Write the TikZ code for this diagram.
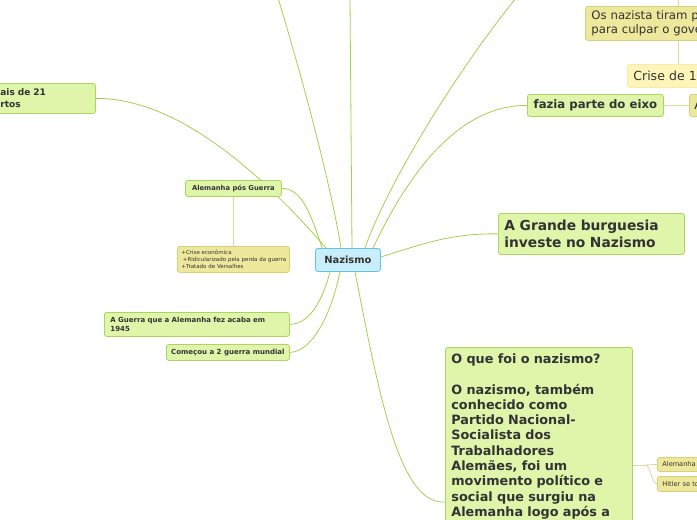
\documentclass[tikz,border=0pt]{standalone}
\usepackage{fontspec}
\setmainfont{DejaVu Sans}
\usetikzlibrary{calc}
\pgfdeclarelayer{background}
\pgfsetlayers{background,main}
\definecolor{gline}{RGB}{165,207,80}
\definecolor{gfill}{RGB}{223,245,170}
\definecolor{gdraw}{RGB}{172,213,95}
\definecolor{bfill}{RGB}{200,238,252}
\definecolor{bdraw}{RGB}{100,195,235}
\definecolor{yfill}{RGB}{237,232,155}
\definecolor{ydraw}{RGB}{215,208,120}
\definecolor{lyfill}{RGB}{255,245,185}
\definecolor{lydraw}{RGB}{246,236,170}
\definecolor{tline}{RGB}{222,215,155}
\definecolor{txt}{RGB}{51,51,51}
\tikzset{
  box/.style={rounded corners=2.5pt, line width=0.8pt, anchor=north west, inner sep=0pt, text=txt},
  gbox/.style={box, draw=gdraw, fill=gfill},
  bbox/.style={box, draw=bdraw, fill=bfill},
  ybox/.style={box, draw=ydraw, fill=yfill},
  lybox/.style={box, draw=lydraw, fill=lyfill},
  gcon/.style={draw=gline, line width=0.8pt},
  tcon/.style={draw=tline, line width=0.8pt},
}
\begin{document}
\begin{tikzpicture}[x=1pt,y=-1pt]
\useasboundingbox (0,0) rectangle (697,520);

% nodes
\node[bbox, minimum width=65pt, minimum height=23pt, font=\fontsize{9.9}{11}\selectfont\bfseries] (nz) at (315,248) {Nazismo};

\node[gbox, minimum width=105pt, minimum height=30pt, text width=95pt, align=left, inner xsep=5pt, font=\fontsize{9}{12}\selectfont\bfseries] (ais) at (-10,83) {\hspace*{5pt}ais de 21\\\hspace*{5pt}rtos};

\node[gbox, minimum width=96pt, minimum height=16pt, font=\fontsize{6.8}{8}\selectfont\bfseries] (apg) at (185,180) {Alemanha pós Guerra};

\node[ybox, minimum width=112pt, minimum height=26pt, text width=106pt, align=left, inner xsep=3pt, font=\fontsize{5.5}{6.6}\selectfont] (crs) at (177,246) {\hspace*{1pt}+Crise econômica\\\hspace*{2.5pt}+Ridicularizado pela perda da guerra\\\hspace*{1pt}+Tratado de Versalhes};

\node[gbox, minimum width=185pt, minimum height=24pt, text width=173pt, align=left, inner xsep=6pt, font=\fontsize{7}{9}\selectfont\bfseries] (agq) at (104,312) {A Guerra que a Alemanha fez acaba em\\1945};

\node[gbox, minimum width=123pt, minimum height=16pt, font=\fontsize{7}{8}\selectfont\bfseries] (com) at (166,344) {Começou a 2 guerra mundial};

\node[gbox, minimum width=186pt, minimum height=41pt, text width=174pt, align=left, inner xsep=6pt, font=\fontsize{13.8}{17}\selectfont\bfseries] (gbg) at (498,213) {A Grande burguesia\\investe no Nazismo};

\node[gbox, minimum width=136pt, minimum height=22pt, font=\fontsize{11.7}{13}\selectfont\bfseries] (fpe) at (527,94) {fazia parte do eixo};

\node[ybox, minimum width=40pt, minimum height=22pt, text width=34pt, align=left, inner xsep=5pt, font=\fontsize{12.5}{14}\selectfont] (aa) at (689,94) {A};

\node[lybox, minimum width=100pt, minimum height=23pt, text width=94pt, align=left, inner xsep=6pt, font=\fontsize{12.5}{14}\selectfont] (cri) at (627,64) {Crise de 1};

\node[ybox, minimum width=130pt, minimum height=34pt, text width=124pt, align=left, inner xsep=6pt, font=\fontsize{11.7}{14.5}\selectfont] (osn) at (585,6) {Os nazista tiram p\\para culpar o gove};

\node[gbox, text width=175pt, align=left, inner xsep=6pt, inner ysep=6.3pt, font=\fontsize{12.8}{15.3}\selectfont\bfseries] (big) at (445,347) {O que foi o nazismo?\\[15.3pt]
O nazismo, também\\
conhecido como\\
Partido Nacional-\\
Socialista dos\\
Trabalhadores\\
Alemães, foi um\\
movimento político e\\
social que surgiu na\\
Alemanha logo após a};

\node[ybox, minimum width=60pt, minimum height=14pt, text width=54pt, align=left, inner xsep=5pt, font=\fontsize{6.6}{7}\selectfont] (ale) at (657,457) {Alemanha};
\node[ybox, minimum width=60pt, minimum height=15pt, text width=54pt, align=left, inner xsep=5pt, font=\fontsize{6.6}{7}\selectfont] (hit) at (657,476) {Hitler se to};

\coordinate (t1) at (278,-2);
\coordinate (t2) at (350,-2);
\coordinate (t3) at (516,-2);
\coordinate (ty) at (678,-2);
\coordinate (br) at (645,465);

% connectors
\begin{pgfonlayer}{background}
\draw[gcon] ($(nz.north west)+(11,0)$) .. controls (250,160) and (170,98) .. (ais.east);
\draw[gcon] ($(nz.north west)+(7,0)$) .. controls (310,210) and (300,188) .. (apg.east);
\draw[gcon] ($(nz.north west)+(26,0)$) .. controls (330,180) and (300,70) .. (t1);
\draw[gcon] ($(nz.north west)+(37,0)$) -- (t2);
\draw[gcon] ($(nz.north west)+(50,0)$) .. controls (385,190) and (450,80) .. (t3);
\draw[gcon] ($(nz.north west)+(58,0)$) .. controls (410,170) and (460,105) .. (fpe.west);
\draw[gcon] ($(nz.north east)+(0,9)$) .. controls (420,245) and (450,233) .. (gbg.west);
\draw[gcon] ($(nz.south west)+(15,0)$) .. controls (320,310) and (305,324) .. (agq.east);
\draw[gcon] ($(nz.south west)+(25,0)$) .. controls (330,320) and (310,352) .. (com.east);
\draw[gcon] ($(nz.south west)+(40,0)$) .. controls (380,400) and (400,505) .. ($(big.north west)+(0,155)$);
\draw[tcon] ($(apg.south west)+(48,0)$) -- ($(crs.north west)+(56,0)$);
\draw[tcon] (fpe.east) -- (aa.west);
\draw[tcon] (ty) -- ($(osn.north west)+(93,0)$);
\draw[tcon] ($(osn.south west)+(93,0)$) -- ($(cri.north west)+(51,0)$);
\draw[tcon] ($(big.north east)+(0,118)$) -- (br);
\draw[tcon] (br) .. controls (651,465) and (651,464) .. (ale.west);
\draw[tcon] (br) .. controls (651,465) and (651,483) .. (hit.west);
\end{pgfonlayer}
\end{tikzpicture}
\end{document}
